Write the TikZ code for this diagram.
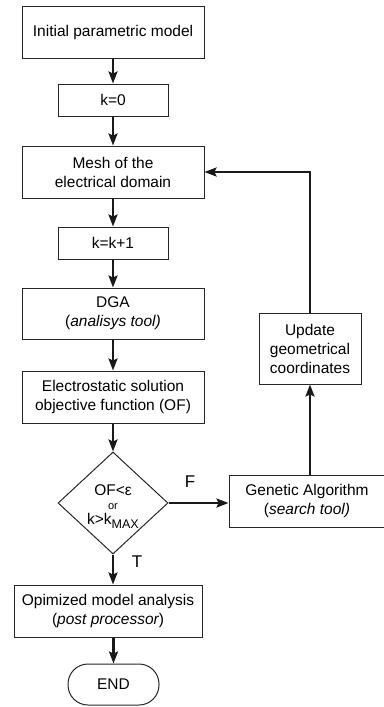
\documentclass[tikz,border=0pt]{standalone}
\usepackage{fontspec}
\setmainfont{Liberation Sans}
\usetikzlibrary{shapes.geometric,arrows.meta}

\tikzset{
    box/.style={draw=black!85, line width=1pt, rectangle, inner sep=0pt, align=center,
        font=\fontsize{15.5}{19}\selectfont},
    endbox/.style={box, rounded corners=20pt},
    decision/.style={draw=black!85, line width=1pt, diamond, inner sep=0pt},
    flow/.style={draw=black!90, line width=2.2pt, -{Stealth[length=12pt,width=9pt,inset=2pt]}},
    lbl/.style={font=\fontsize{17}{19}\selectfont, inner sep=0pt}
}

\begin{document}
\begin{tikzpicture}[x=1pt, y=-1pt]
    \useasboundingbox (0,0) rectangle (383,707);

    \node[box, minimum width=182pt, minimum height=52pt] (init) at (113, 32) {Initial parametric model};
    \node[box, minimum width=110pt, minimum height=32pt] (kzero) at (113, 100) {k=0};
    \node[box, minimum width=182pt, minimum height=52pt] (mesh) at (113, 172) {Mesh of the\\electrical domain};
    \node[box, minimum width=110pt, minimum height=32pt] (kinc) at (113, 243) {k=k+1};
    \node[box, minimum width=182pt, minimum height=51pt] (dga) at (113, 313.5) {DGA\\({\itshape analisys tool)}};
    \node[box, minimum width=182pt, minimum height=52pt] (elec) at (113, 397) {Electrostatic solution\\objective function (OF)};

    \node[decision, minimum width=110pt, minimum height=102pt] (dec) at (113, 503) {};
    \node[align=center, inner sep=0pt, font=\fontsize{15.5}{17}\selectfont] (dectext) at (113, 507)
        {OF<ε\\[-3pt]{\fontsize{11}{12}\selectfont or}\\[-2pt]k>k\raisebox{-4pt}{\fontsize{12.5}{12}\selectfont MAX}};

    \node[box, minimum width=156pt, minimum height=52pt] (ga) at (307, 501) {Genetic Algorithm\\({\itshape search tool)}};
    \node[box, minimum width=102pt, minimum height=71pt] (upd) at (310, 348.5) {Update\\geometrical\\coordinates};
    \node[box, minimum width=188pt, minimum height=52pt] (opt) at (108, 611) {Opimized model analysis\\({\itshape post processor})};
    \node[endbox, minimum width=91pt, minimum height=41pt] (end) at (113.5, 684.5) {END};

    \node[lbl] (flab) at (190, 482) {F};
    \node[lbl] (tlab) at (137, 562) {T};

    \draw[flow] (init.south) -- (kzero.north);
    \draw[flow] (kzero.south) -- (mesh.north);
    \draw[flow] (mesh.south) -- (kinc.north);
    \draw[flow] (kinc.south) -- (dga.north);
    \draw[flow] (dga.south) -- (elec.north);
    \draw[flow] (elec.south) -- (dec.north);
    \draw[flow] (dec.east) -- (dec.east -| ga.west);
    \draw[flow] (upd.south |- ga.north) -- (upd.south);
    \draw[flow] (upd.north) |- (mesh.east);
    \draw[flow] (dec.south) -- (dec.south |- opt.north);
    \draw[flow] (opt.south -| end.north) -- (end.north);
\end{tikzpicture}
\end{document}
